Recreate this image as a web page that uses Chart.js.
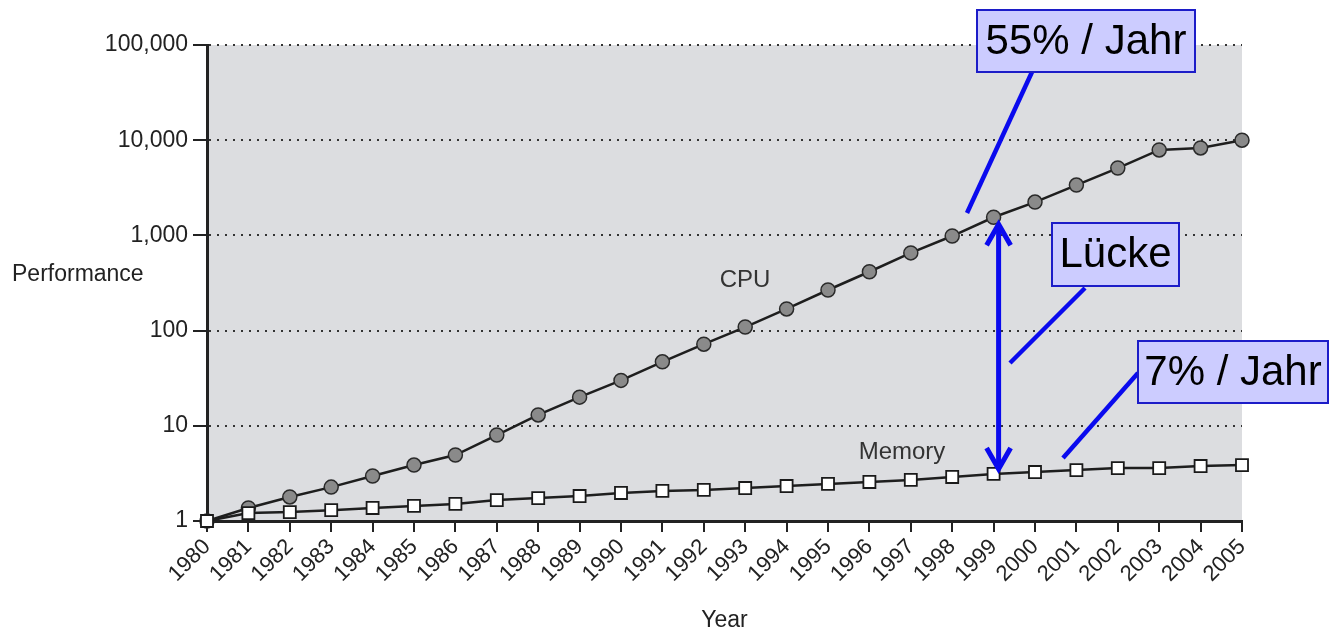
<!DOCTYPE html>
<html>
<head>
<meta charset="utf-8">
<script src="https://cdn.jsdelivr.net/npm/chart.js@4.4.1/dist/chart.umd.min.js"></script>
<style>
  html, body { margin: 0; padding: 0; background: #ffffff; }
  #wrap { width: 1330px; height: 633px; }
</style>
</head>
<body>
<div id="wrap"><canvas id="c" width="1330" height="633"></canvas></div>
<script>
const years = ['1980','1981','1982','1983','1984','1985','1986','1987','1988','1989','1990','1991','1992',
               '1993','1994','1995','1996','1997','1998','1999','2000','2001','2002','2003','2004','2005'];
const cpuValues = [1, 1.37, 1.79, 2.27, 2.97, 3.87, 4.93, 8.0, 13, 20, 30, 47, 72,
                   109, 169, 267, 415, 655, 985, 1550, 2240, 3380, 5100, 7900, 8300, 10000];
const memoryValues = [1, 1.21, 1.24, 1.30, 1.37, 1.44, 1.51, 1.66, 1.74, 1.83, 1.97, 2.07, 2.12,
                      2.22, 2.33, 2.45, 2.57, 2.70, 2.90, 3.12, 3.27, 3.43, 3.60, 3.60, 3.78, 3.87];
const yTickValues = [1, 10, 100, 1000, 10000, 100000];
const seriesLabels = ['CPU', 'Memory'];
const annotationTexts = ['55% / Jahr', 'Lücke', '7% / Jahr'];
const yTitle = 'Performance';
const xTitle = 'Year';

const FONT = '"Liberation Sans", Arial, Helvetica, sans-serif';

const overlay = {
  id: 'overlay',
  beforeDraw(chart) {
    const { ctx, chartArea: a } = chart;
    ctx.save();
    ctx.fillStyle = '#dcdde0';
    ctx.fillRect(a.left, a.top, a.right - a.left, a.bottom - a.top);
    ctx.restore();
  },
  afterDraw(chart) {
    const { ctx } = chart;
    const xs = chart.scales.x, ys = chart.scales.y;
    ctx.save();
    // y title (horizontal)
    ctx.fillStyle = '#222';
    ctx.font = '23px ' + FONT;
    ctx.textAlign = 'left';
    ctx.textBaseline = 'middle';
    ctx.fillText(yTitle, 12, 275);
    // x title
    ctx.textAlign = 'center';
    ctx.fillText(xTitle, (chart.chartArea.left + chart.chartArea.right) / 2, 621);
    // series labels
    ctx.fillStyle = '#333';
    ctx.font = '24px ' + FONT;
    ctx.fillText(seriesLabels[0], 745, 280);
    ctx.fillText(seriesLabels[1], 902, 452);

    // leader lines
    const blue = '#0a0aee';
    ctx.strokeStyle = blue;
    ctx.lineWidth = 4.5;
    ctx.lineCap = 'butt';
    const seg = (x1, y1, x2, y2) => { ctx.beginPath(); ctx.moveTo(x1, y1); ctx.lineTo(x2, y2); ctx.stroke(); };
    seg(1032, 72, 967, 213);
    seg(1085, 288, 1010, 363);
    seg(1138, 373, 1063, 458);

    // double arrow between CPU and Memory at 1999
    const i99 = years.indexOf('1999');
    const ax = xs.getPixelForValue(i99) + 5;
    const yTop = ys.getPixelForValue(cpuValues[i99]) + 5;
    const yBot = ys.getPixelForValue(memoryValues[i99]) - 3;
    ctx.lineWidth = 5;
    seg(ax, yTop + 3, ax, yBot - 3);
    ctx.lineJoin = 'miter';
    ctx.beginPath();
    ctx.moveTo(ax - 12, yTop + 23); ctx.lineTo(ax, yTop + 2); ctx.lineTo(ax + 12, yTop + 23);
    ctx.stroke();
    ctx.beginPath();
    ctx.moveTo(ax - 12, yBot - 23); ctx.lineTo(ax, yBot - 2); ctx.lineTo(ax + 12, yBot - 23);
    ctx.stroke();

    // boxes
    const box = (x, y, w, h, text, size) => {
      ctx.fillStyle = '#ccccff';
      ctx.fillRect(x, y, w, h);
      ctx.strokeStyle = '#1c1cc8';
      ctx.lineWidth = 2;
      ctx.strokeRect(x, y, w, h);
      ctx.fillStyle = '#000';
      ctx.font = size + 'px ' + FONT;
      ctx.textAlign = 'center';
      ctx.textBaseline = 'middle';
      ctx.fillText(text, x + w / 2, y + h / 2 + 1);
    };
    box(977, 10, 218, 62, annotationTexts[0], 42);
    box(1052, 223, 127, 63, annotationTexts[1], 42);
    box(1138, 341, 190, 62, annotationTexts[2], 42);
    ctx.restore();
  }
};

new Chart(document.getElementById('c'), {
  type: 'line',
  data: {
    labels: years,
    datasets: [
      {
        label: seriesLabels[0],
        data: cpuValues,
        order: 1,
        clip: false,
        borderColor: '#1e1e1e',
        borderWidth: 2.5,
        pointStyle: 'circle',
        pointRadius: 7,
        pointBackgroundColor: '#8a8a8a',
        pointBorderColor: '#2a2a2a',
        pointBorderWidth: 1.5,
        tension: 0
      },
      {
        label: seriesLabels[1],
        data: memoryValues,
        order: 0,
        clip: false,
        borderColor: '#1e1e1e',
        borderWidth: 2.5,
        pointStyle: 'rect',
        pointRadius: 8.5,
        pointBackgroundColor: '#ffffff',
        pointBorderColor: '#1a1a1a',
        pointBorderWidth: 1.8,
        tension: 0
      }
    ]
  },
  options: {
    responsive: false,
    animation: false,
    devicePixelRatio: 1,
    layout: { padding: { left: 0, right: 88, top: 45, bottom: 0 } },
    plugins: { legend: { display: false }, tooltip: { enabled: false } },
    scales: {
      x: {
        type: 'category',
        offset: false,
        afterFit(scale) { scale.height = 112; },
        grid: { drawOnChartArea: false, drawTicks: true, tickLength: 11, color: '#222', lineWidth: 2 },
        border: { display: true, color: '#222', width: 3 },
        ticks: {
          autoSkip: false, maxRotation: 45, minRotation: 45, padding: 2,
          color: '#222', font: { family: FONT, size: 22 }
        }
      },
      y: {
        type: 'logarithmic',
        min: 1,
        max: 100000,
        afterFit(scale) { scale.width = 207; },
        afterBuildTicks(scale) { scale.ticks = yTickValues.map(v => ({ value: v })); },
        grid: {
          drawOnChartArea: true, drawTicks: true, tickLength: 14,
          color: '#333', lineWidth: 2, tickColor: '#222', tickWidth: 2, tickBorderDash: []
        },
        border: { display: true, color: '#222', width: 3, dash: [2, 6] },
        ticks: {
          padding: 5, color: '#222', font: { family: FONT, size: 23 },
          callback: (v) => Number(v).toLocaleString('en-US')
        }
      }
    }
  },
  plugins: [overlay]
});
</script>
</body>
</html>
